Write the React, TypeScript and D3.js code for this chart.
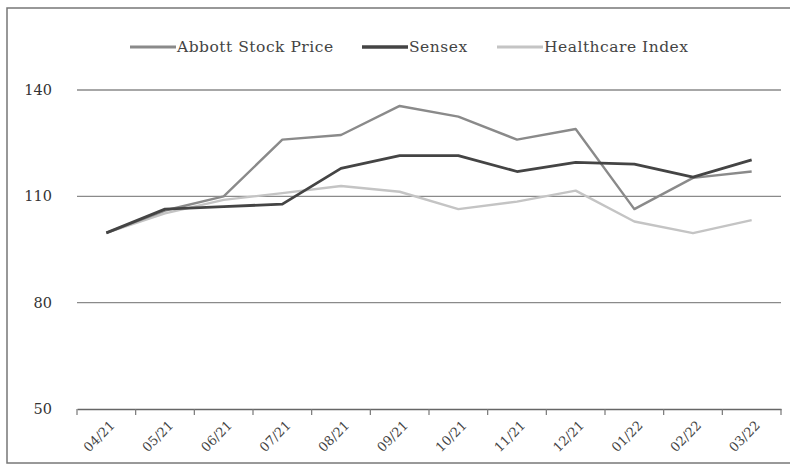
import React, { useEffect, useRef } from "react";
import * as d3 from "d3";

const months = ["04/21","05/21","06/21","07/21","08/21","09/21","10/21","11/21","12/21","01/22","02/22","03/22"];
const abbott = [99.7, 106, 110, 126, 127.3, 135.5, 132.5, 126, 129, 106.4, 115.2, 117];
const sensex = [99.7, 106.4, 107.1, 107.8, 117.9, 121.5, 121.5, 117.0, 119.6, 119.1, 115.4, 120.3];
const healthcare = [99.7, 105.2, 109.0, 110.9, 112.9, 111.3, 106.4, 108.5, 111.6, 102.9, 99.6, 103.3];
const yTicks = [50, 80, 110, 140];
const seriesNames = ["Abbott Stock Price", "Sensex", "Healthcare Index"];

const W = 790, H = 473;
const FONT = "'DejaVu Serif', 'Liberation Serif', serif";

export default function App() {
  const ref = useRef<SVGSVGElement>(null);
  useEffect(() => {
    const svg = d3.select(ref.current);
    svg.selectAll("*").remove();

    svg.append("rect").attr("x", 7).attr("y", 8).attr("width", W + 10).attr("height", 455)
      .attr("fill", "#fff").attr("stroke", "#777").attr("stroke-width", 1.5);

    const x = d3.scaleBand<string>().domain(months).range([77, 781]);
    const y = d3.scaleLinear().domain([50, 140]).range([409, 90]);

    const series = [
      { name: seriesNames[0], values: abbott, color: "#8a8a8a", w: 2.4 },
      { name: seriesNames[1], values: sensex, color: "#444", w: 2.8 },
      { name: seriesNames[2], values: healthcare, color: "#c4c4c4", w: 2.4 },
    ];

    const g = svg.append("g");
    g.selectAll("line.grid").data(yTicks.filter(t => t !== 50)).enter().append("line")
      .attr("x1", 77).attr("x2", 781).attr("y1", d => y(d)).attr("y2", d => y(d))
      .attr("stroke", "#8a8a8a").attr("stroke-width", 1.3);

    g.selectAll("text.yl").data(yTicks).enter().append("text")
      .attr("x", 52).attr("y", d => y(d)).attr("dy", "0.35em").attr("text-anchor", "end")
      .attr("font-family", FONT).attr("font-size", 14.5).attr("fill", "#333")
      .text(d => String(d));

    const xAxis = d3.axisBottom(x).tickSize(0).tickFormat(() => "");
    const ax = svg.append("g").attr("transform", `translate(0,${y(50)})`).call(xAxis);
    ax.select(".domain").attr("stroke", "#666").attr("stroke-width", 1.3);
    const edges = months.map(m => x(m)!).concat([781]);
    ax.selectAll("line.tk").data(edges).enter().append("line").attr("class", "tk")
      .attr("x1", d => d).attr("x2", d => d).attr("y1", 0).attr("y2", 6)
      .attr("stroke", "#777").attr("stroke-width", 1.2);
    ax.selectAll("text.xl").data(months).enter().append("text").attr("class", "xl")
      .attr("transform", d => `translate(${x(d)! + x.bandwidth() / 2 + 6},${14}) rotate(-45)`)
      .attr("text-anchor", "end").attr("dy", "0.35em")
      .attr("font-family", FONT).attr("font-size", 13).attr("fill", "#444")
      .text(d => d);

    const line = d3.line<number>()
      .x((_, i) => x(months[i])! + x.bandwidth() / 2)
      .y(d => y(d));
    [2, 0, 1].forEach(i => {
      const s = series[i];
      svg.append("path").datum(s.values).attr("d", line).attr("fill", "none")
        .attr("stroke", s.color).attr("stroke-width", s.w).attr("stroke-linejoin", "round");
    });

    const legendItems = [
      { x: 130, s: series[0] },
      { x: 362, s: series[1] },
      { x: 497, s: series[2] },
    ];
    legendItems.forEach(it => {
      svg.append("line").attr("x1", it.x).attr("x2", it.x + 46).attr("y1", 47).attr("y2", 47)
        .attr("stroke", it.s.color).attr("stroke-width", it.s.w + 0.6);
      svg.append("text").attr("x", it.x + 47).attr("y", 47).attr("dy", "0.35em")
        .attr("font-family", FONT).attr("font-size", 15.5).attr("letter-spacing", 0.5).attr("fill", "#444")
        .text(it.s.name);
    });
  }, []);
  return <svg ref={ref} width={W} height={H} style={{ position: "absolute", left: 0, top: 0, background: "#fff" }} />;
}
